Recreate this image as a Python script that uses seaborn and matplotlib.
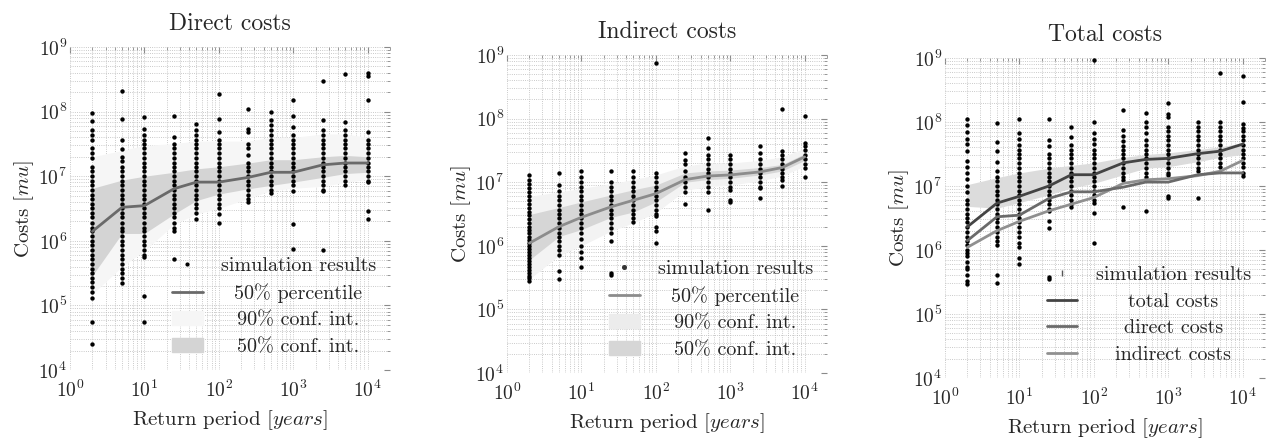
import numpy as np
import pandas as pd
import matplotlib
matplotlib.use('Agg')
import matplotlib.pyplot as plt
import seaborn as sns
from matplotlib.lines import Line2D
from matplotlib.patches import Patch
from matplotlib.ticker import LogLocator, NullFormatter

# return periods in years
periods = [2, 5, 10, 25, 50, 100, 250, 500, 1000, 2500, 5000, 10000]

# simulation results, one list per return period (costs in mu)
direct_sim = [
    [2.5e4, 5.5e4, 1.3e5, 1.6e5, 1.9e5, 2.3e5, 2.7e5, 3.2e5, 3.7e5, 4.4e5, 5.2e5, 6.1e5, 7.2e5, 8.5e5, 1e6, 1.2e6,
     1.4e6, 1.6e6, 1.9e6, 2.3e6, 2.7e6, 3.2e6, 3.7e6, 4.4e6, 5.2e6, 6.1e6, 7.2e6, 8.5e6, 1e7, 1.2e7, 1.4e7, 1.9e7,
     2.3e7, 2.7e7, 3.7e7, 4.4e7, 5.2e7, 7.2e7, 9.5e7],
    [2.2e5, 2.7e5, 3.2e5, 3.7e5, 4.4e5, 5.2e5, 6.1e5, 7.2e5, 8.5e5, 1e6, 1.2e6, 1.4e6, 1.6e6, 1.9e6, 2.3e6, 2.7e6,
     3.2e6, 3.7e6, 4.4e6, 5.2e6, 6.1e6, 7.2e6, 8.5e6, 1e7, 1.2e7, 1.4e7, 1.7e7, 2e7, 2.6e7, 3.6e7, 7.7e7, 2.1e8],
    [5.5e4, 1.4e5, 5.6e5, 6.1e5, 7.2e5, 8.5e5, 1e6, 1.2e6, 1.4e6, 1.6e6, 1.9e6, 2.3e6, 2.7e6, 3.2e6, 3.7e6, 4.4e6,
     5.2e6, 6.1e6, 7.2e6, 8.5e6, 1e7, 1.2e7, 1.4e7, 1.6e7, 1.9e7, 2.3e7, 2.7e7, 3.2e7, 3.7e7, 4.4e7, 5.4e7, 8.2e7],
    [5.3e5, 1.4e6, 1.6e6, 1.9e6, 2.3e6, 2.7e6, 3.2e6, 3.7e6, 4.4e6, 5.2e6, 6.1e6, 7.2e6, 8.5e6, 1e7, 1.2e7, 1.4e7,
     1.6e7, 1.9e7, 2.3e7, 2.7e7, 3.2e7, 4e7, 8.4e7],
    [2.2e6, 2.7e6, 3.2e6, 3.7e6, 4.4e6, 5.2e6, 6.1e6, 7.2e6, 8.5e6, 1e7, 1.2e7, 1.4e7, 1.6e7, 1.9e7, 2.3e7, 2.7e7,
     3.2e7, 3.7e7, 4.4e7, 5.2e7, 6.5e7],
    [1.9e6, 2.6e6, 3.2e6, 3.7e6, 4.4e6, 5.2e6, 6.1e6, 7.2e6, 8.5e6, 1e7, 1.2e7, 1.4e7, 1.6e7, 1.9e7, 2.3e7, 2.7e7,
     3.2e7, 3.7e7, 4.8e7, 7.7e7, 1.9e8],
    [4e6, 4.4e6, 5.2e6, 6.1e6, 7.2e6, 8.5e6, 1e7, 1.2e7, 1.4e7, 1.6e7, 2.1e7, 2.7e7, 3.2e7, 4.8e7, 5.4e7, 1.1e8],
    [5.4e6, 6.1e6, 7.2e6, 8.5e6, 1e7, 1.2e7, 1.4e7, 1.6e7, 1.9e7, 2.3e7, 2.7e7, 3.2e7, 3.7e7, 4.4e7, 5.2e7, 6.1e7,
     7.3e7, 1e8],
    [7.5e5, 1.8e6, 6e6, 7.2e6, 8.5e6, 1e7, 1.2e7, 1.4e7, 1.6e7, 1.9e7, 2.3e7, 2.7e7, 3.2e7, 3.7e7, 4.4e7, 5.8e7,
     8.7e7, 1.5e8],
    [7.1e5, 5.8e6, 6.1e6, 7.2e6, 8.5e6, 1e7, 1.2e7, 1.4e7, 1.6e7, 1.9e7, 2.3e7, 2.7e7, 3.2e7, 3.7e7, 4.4e7, 5.2e7,
     7.3e7, 3e8],
    [7.2e6, 8.5e6, 1e7, 1.2e7, 1.4e7, 1.6e7, 1.9e7, 2.3e7, 2.7e7, 3.2e7, 3.7e7, 4.4e7, 5.2e7, 6.9e7, 3.8e8],
    [2.2e6, 2.9e6, 8e6, 8.5e6, 1e7, 1.2e7, 1.4e7, 1.6e7, 1.9e7, 2.3e7, 2.7e7, 3.2e7, 3.7e7, 4.8e7, 1.5e8, 3.6e8, 4e8],
]

indirect_sim = [
    [2.8e5, 3.1e5, 3.4e5, 3.8e5, 4.2e5, 4.7e5, 5.2e5, 5.8e5, 6.5e5, 7.2e5, 8e5, 9e5, 1e6, 1.1e6, 1.25e6, 1.4e6,
     1.6e6, 1.8e6, 2e6, 2.3e6, 2.6e6, 3e6, 3.4e6, 3.9e6, 4.5e6, 5.2e6, 6e6, 7e6, 8e6, 9.3e6, 1.1e7, 1.3e7],
    [3e5, 4e5, 7.2e5, 8.5e5, 1e6, 1.2e6, 1.4e6, 1.6e6, 1.9e6, 2.3e6, 2.7e6, 3.2e6, 3.7e6, 4.4e6, 5.2e6, 6.1e6,
     7.2e6, 9e6, 1.4e7],
    [4.7e5, 6.5e5, 8e5, 1e6, 1.3e6, 1.6e6, 1.9e6, 2.3e6, 2.7e6, 3.2e6, 3.7e6, 4.4e6, 5.2e6, 6.1e6, 7.2e6, 8.5e6,
     1e7, 1.2e7, 1.5e7],
    [3.5e5, 3.8e5, 1.2e6, 1.6e6, 1.9e6, 2.3e6, 2.7e6, 3.2e6, 3.7e6, 4.4e6, 5.2e6, 6.1e6, 7.2e6, 8.5e6, 1e7, 1.5e7],
    [2.4e6, 2.7e6, 3.2e6, 3.7e6, 4.4e6, 5.2e6, 6.1e6, 7.2e6, 8.5e6, 1e7, 1.2e7, 1.5e7],
    [1.1e6, 1.7e6, 2e6, 2.9e6, 3.2e6, 3.7e6, 4.4e6, 5.2e6, 6.1e6, 7.2e6, 8.5e6, 1e7, 1.2e7, 1.4e7, 7.4e8],
    [4.6e6, 7e6, 8.5e6, 1e7, 1.2e7, 1.5e7, 1.9e7, 2.2e7, 2.9e7],
    [3.7e6, 7e6, 8.5e6, 1e7, 1.2e7, 1.4e7, 1.6e7, 1.9e7, 2.3e7, 2.7e7, 3.5e7, 4.9e7],
    [4.8e6, 5.3e6, 7.6e6, 8.5e6, 1e7, 1.2e7, 1.4e7, 1.6e7, 1.9e7, 2.3e7, 2.7e7],
    [5.6e6, 8e6, 8.5e6, 1e7, 1.2e7, 1.4e7, 1.6e7, 1.9e7, 2.3e7, 2.9e7, 3.7e7],
    [8.6e6, 1.1e7, 1.2e7, 1.4e7, 1.6e7, 1.9e7, 2.3e7, 2.7e7, 3.1e7, 1.4e8],
    [1.2e7, 1.7e7, 1.9e7, 2.3e7, 2.7e7, 3.2e7, 3.7e7, 4.1e7, 1.1e8],
]

total_sim = [
    [2.9e5, 3.3e5, 4e5, 5e5, 5.5e5, 6.5e5, 8e5, 9e5, 1e6, 1.2e6, 1.4e6, 1.6e6, 1.9e6, 2.3e6, 2.7e6, 3.2e6, 3.7e6,
     4.4e6, 5.2e6, 6e6, 8e6, 1e7, 1.3e7, 1.6e7, 2e7, 2.5e7, 3.5e7, 4.5e7, 5.5e7, 7e7, 9e7, 1.1e8],
    [3e5, 4e5, 1.2e6, 1.4e6, 1.6e6, 1.9e6, 2.3e6, 2.7e6, 3.2e6, 3.7e6, 4.4e6, 5.2e6, 6.1e6, 7.2e6, 8.5e6, 1e7,
     1.2e7, 1.4e7, 1.7e7, 2.4e7, 3.5e7, 4.8e7, 9.7e7],
    [6e5, 7.5e5, 1.1e6, 1.3e6, 1.6e6, 1.9e6, 2.3e6, 2.7e6, 3.2e6, 3.7e6, 4.4e6, 5.2e6, 6.1e6, 7.2e6, 8.5e6, 1e7,
     1.2e7, 1.4e7, 1.6e7, 1.9e7, 2.3e7, 2.7e7, 3.2e7, 3.7e7, 4.4e7, 5.5e7, 6.8e7, 1.1e8],
    [3.5e5, 3.8e5, 2.2e6, 2.8e6, 4e6, 4.4e6, 5.2e6, 6.1e6, 7.2e6, 8.5e6, 1e7, 1.2e7, 1.4e7, 1.6e7, 1.9e7, 2.3e7,
     2.7e7, 3.2e7, 4.2e7, 5.3e7, 1.1e8],
    [4.7e6, 5.2e6, 6.1e6, 7.2e6, 8.5e6, 1e7, 1.2e7, 1.4e7, 1.6e7, 1.9e7, 2.3e7, 2.7e7, 3.2e7, 3.7e7, 4.4e7, 5.9e7,
     8.5e7],
    [1.3e6, 3.8e6, 5.5e6, 6.1e6, 7.2e6, 8.5e6, 1e7, 1.2e7, 1.4e7, 1.6e7, 1.9e7, 2.3e7, 2.7e7, 3.2e7, 3.7e7, 4.5e7,
     5.5e7, 6.8e7, 1e8, 9.4e8],
    [4.7e6, 1.25e7, 1.4e7, 1.6e7, 1.9e7, 2.3e7, 2.7e7, 3.2e7, 3.7e7, 4.2e7, 5e7, 6e7, 7.6e7, 1.55e8],
    [4e6, 1.4e7, 1.6e7, 1.9e7, 2.3e7, 2.7e7, 3.2e7, 3.7e7, 4.4e7, 5.2e7, 6.8e7, 8.5e7, 1e8, 1.4e8],
    [6.4e6, 7e6, 1.5e7, 1.6e7, 1.9e7, 2.3e7, 2.7e7, 3.2e7, 3.7e7, 4.4e7, 5.2e7, 6.1e7, 7.2e7, 8.5e7, 1.2e8, 1.35e8,
     2e8],
    [6.6e6, 1.7e7, 1.9e7, 2.3e7, 2.7e7, 3.2e7, 3.7e7, 4.4e7, 5.2e7, 6.1e7, 7.2e7, 8.5e7, 1e8],
    [2e7, 2.3e7, 2.7e7, 3.2e7, 3.7e7, 4.4e7, 5.2e7, 6.1e7, 7.2e7, 8.5e7, 1e8, 5.8e8],
    [1.45e7, 1.6e7, 2e7, 2.3e7, 2.7e7, 3.2e7, 3.7e7, 4.4e7, 5.2e7, 6.1e7, 7.2e7, 8e7, 9.4e7, 2.05e8, 5.3e8],
]

# percentiles / confidence intervals
direct_median = [1.4e6, 3.3e6, 3.5e6, 6.4e6, 8.1e6, 8.1e6, 9.6e6, 1.15e7, 1.15e7, 1.5e7, 1.6e7, 1.6e7]
direct_ci50_low = [2.9e5, 1.3e6, 1.3e6, 2.6e6, 4.2e6, 5.3e6, 6.4e6, 7.2e6, 8.1e6, 9.6e6, 1.1e7, 1.15e7]
direct_ci50_high = [6.5e6, 8.7e6, 1e7, 1.15e7, 1.3e7, 1.4e7, 1.6e7, 1.8e7, 1.8e7, 2e7, 2.1e7, 2e7]
direct_ci90_low = [1.5e5, 4e5, 7e5, 1.8e6, 2.6e6, 3.2e6, 4.5e6, 6e6, 6.5e6, 7e6, 8e6, 9e6]
direct_ci90_high = [2e7, 2.5e7, 3e7, 3.2e7, 3.5e7, 3.5e7, 3.5e7, 4e7, 4e7, 4.5e7, 4.5e7, 4e7]

indirect_median = [1.1e6, 2.0e6, 2.8e6, 4.1e6, 5.2e6, 6.6e6, 1.1e7, 1.25e7, 1.3e7, 1.45e7, 1.7e7, 2.5e7]
indirect_ci50_low = [6e5, 1.4e6, 1.8e6, 2.8e6, 3.4e6, 4.9e6, 1.0e7, 1.1e7, 1.15e7, 1.3e7, 1.5e7, 2.2e7]
indirect_ci50_high = [3.1e6, 4e6, 4.9e6, 6.3e6, 7.6e6, 9e6, 1.4e7, 1.5e7, 1.55e7, 1.7e7, 1.9e7, 2.8e7]
indirect_ci90_low = [3e5, 7e5, 1e6, 1.7e6, 2.3e6, 3.3e6, 7.5e6, 8.5e6, 9e6, 1.05e7, 1.25e7, 1.8e7]
indirect_ci90_high = [6e6, 7e6, 8e6, 9.5e6, 1.1e7, 1.3e7, 1.8e7, 2e7, 2e7, 2.2e7, 2.5e7, 3.4e7]

total_median = [2.3e6, 5.4e6, 6.9e6, 1e7, 1.5e7, 1.5e7, 2.3e7, 2.6e7, 2.7e7, 3.2e7, 3.5e7, 4.5e7]
total_ci50_low = [4.8e6, 4.5e6, 5.5e6, 7.3e6, 9.3e6, 1.1e7, 1.5e7, 1.9e7, 2e7, 2.4e7, 2.8e7, 3.1e7]
total_ci50_high = [1.05e7, 1.35e7, 1.6e7, 1.9e7, 2.1e7, 2.3e7, 2.8e7, 3.1e7, 3.3e7, 3.7e7, 4.1e7, 4.7e7]


def sim_frame(sim):
    rows = [(p, v) for p, vals in zip(periods, sim) for v in vals]
    return pd.DataFrame(rows, columns=['Period', 'Cost'])


def style_axes(ax, title):
    ax.set_xscale('log')
    ax.set_yscale('log')
    ax.set_xlim(1, 2e4)
    ax.set_ylim(1e4, 1e9)
    for axis in [ax.xaxis, ax.yaxis]:
        axis.set_major_locator(LogLocator(base=10, numticks=12))
        axis.set_minor_locator(LogLocator(base=10, subs=np.arange(2, 10), numticks=12))
        axis.set_minor_formatter(NullFormatter())
    ax.set_axisbelow(True)
    ax.grid(True, which='both', linestyle=':', linewidth=0.6, color='#b8b8b8')
    ax.tick_params(which='both', direction='in', top=True, right=True, color='#8a8a8a', labelsize=14)
    ax.tick_params(which='major', length=4, width=0.8)
    ax.tick_params(which='minor', length=2.5, width=0.6)
    ax.tick_params(axis='x', which='major', pad=7)
    ax.tick_params(axis='y', which='major', pad=2)
    for s in ax.spines.values():
        s.set_visible(False)
    ax.set_title(title, fontsize=17, pad=12)
    ax.set_xlabel('Return period [$years$]', fontsize=15, labelpad=5)
    ax.set_ylabel('Costs [$mu$]', fontsize=15, labelpad=2)


def center_legend(fig, leg):
    # labels are centred in their column as in the original
    fig.canvas.draw()
    r = fig.canvas.get_renderer()
    texts = leg.get_texts()
    widths = [t.get_window_extent(r).width for t in texts]
    w = max(widths)
    for t, wi in zip(texts, widths):
        t.set_x((w - wi) / 2)


sns.set_style('white')
plt.rcParams['font.family'] = 'serif'
plt.rcParams['font.serif'] = ['cmr10']
plt.rcParams['mathtext.fontset'] = 'cm'
plt.rcParams['axes.formatter.use_mathtext'] = True

fig = plt.figure(figsize=(12.78, 4.41), dpi=100)
ax1 = fig.add_axes([0.0548, 0.161, 0.2504, 0.7324])
ax2 = fig.add_axes([0.3967, 0.1542, 0.2504, 0.7211])
ax3 = fig.add_axes([0.7394, 0.1429, 0.2504, 0.7256])

leg_kw = dict(loc='lower right', frameon=False, fontsize=14.5, handlelength=1.5, handletextpad=0.9,
              labelspacing=0.42, borderaxespad=0.3)

# --- Direct costs
ax = ax1
ax.fill_between(periods, direct_ci90_low, direct_ci90_high, color='#f6f6f6', lw=0)
ax.fill_between(periods, direct_ci50_low, direct_ci50_high, color='#d4d4d4', lw=0)
sns.scatterplot(x='Period', y='Cost', data=sim_frame(direct_sim), color='black', s=10, linewidth=0, ax=ax, zorder=3)
sns.lineplot(x=periods, y=direct_median, color='#6a6a6a', lw=2, estimator=None, ax=ax, zorder=4)
style_axes(ax, 'Direct costs')
handles = [Line2D([], [], ls='', marker='o', ms=2, color='black'),
           Line2D([], [], color='#6a6a6a', lw=2),
           Patch(color='#f6f6f6'), Patch(color='#d4d4d4')]
labels = ['simulation results', '50% percentile', '90% conf. int.', '50% conf. int.']
leg1 = ax.legend(handles, labels, **leg_kw)

# --- Indirect costs
ax = ax2
ax.fill_between(periods, indirect_ci90_low, indirect_ci90_high, color='#f3f3f3', lw=0)
ax.fill_between(periods, indirect_ci50_low, indirect_ci50_high, color='#d6d6d6', lw=0)
sns.scatterplot(x='Period', y='Cost', data=sim_frame(indirect_sim), color='black', s=10, linewidth=0, ax=ax, zorder=3)
sns.lineplot(x=periods, y=indirect_median, color='#8c8c8c', lw=2, estimator=None, ax=ax, zorder=4)
style_axes(ax, 'Indirect costs')
handles = [Line2D([], [], ls='', marker='o', ms=2.6, color='#333333'),
           Line2D([], [], color='#8c8c8c', lw=2),
           Patch(color='#ececec'), Patch(color='#d6d6d6')]
leg2 = ax.legend(handles, labels, **leg_kw)

# --- Total costs
ax = ax3
ax.fill_between(periods, total_ci50_low, total_ci50_high, color='#dcdcdc', lw=0)
sns.scatterplot(x='Period', y='Cost', data=sim_frame(total_sim), color='black', s=10, linewidth=0, ax=ax, zorder=3)
sns.lineplot(x=periods, y=indirect_median, color='#909090', lw=2, estimator=None, ax=ax, zorder=4)
sns.lineplot(x=periods, y=direct_median, color='#6a6a6a', lw=2, estimator=None, ax=ax, zorder=5)
sns.lineplot(x=periods, y=total_median, color='#444444', lw=2, estimator=None, ax=ax, zorder=6)
style_axes(ax, 'Total costs')
handles = [Line2D([], [], ls='', marker='|', ms=5, color='#555555'),
           Line2D([], [], color='#444444', lw=2),
           Line2D([], [], color='#6a6a6a', lw=2),
           Line2D([], [], color='#909090', lw=2)]
labels3 = ['simulation results', 'total costs', 'direct costs', 'indirect costs']
leg3 = ax.legend(handles, labels3, **leg_kw)

for leg in [leg1, leg2, leg3]:
    center_legend(fig, leg)

fig.savefig('out.png', dpi=100)
